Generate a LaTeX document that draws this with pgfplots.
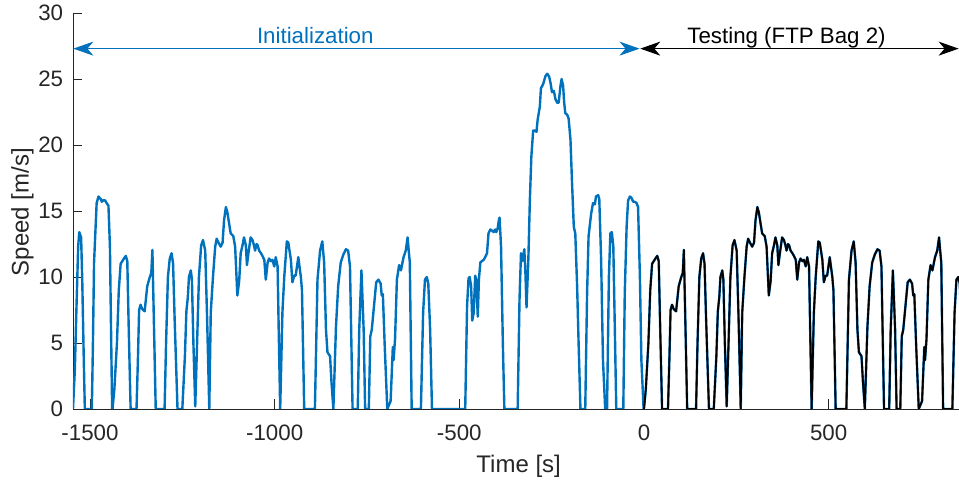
\documentclass[border=0pt]{standalone}
\usepackage{pgfplots}
\pgfplotsset{compat=1.18}
\usepackage{pgfplotstable}
\usepackage{fontspec}
\setmainfont{Liberation Sans}
\usetikzlibrary{arrows.meta}
\definecolor{mblue}{RGB}{0,114,189}
\definecolor{axgray}{RGB}{38,38,38}

% Speed trace before the repeated FTP Bag 2 segment
\pgfplotstableread{
t v
-1546 0
-1541 3
-1537 7.3
-1532 12.3
-1529 13.4
-1524 13.0
-1521 9.8
-1517 4
-1514 0
-1495 0
-1492 5
-1489 11.1
-1482 15.6
-1477 16.1
-1471 15.9
-1468 15.7
-1465 15.8
-1459 15.8
-1455 15.6
-1450 15.4
-1446 12.3
-1443 6
-1440 0
}\leadin

% FTP Bag 2 speed profile, time from start of the bag
\pgfplotstableread{
t v
0 0
5 1.5
12 5
17 9
22 11.0
31 11.4
36 11.6
40 11.2
44 6
49 0
65 0
69 4
72 7.5
76 7.9
80 7.6
83 7.5
87 7.4
94 9.3
101 10.0
105 10.3
108 12.05
111 8
117 0
141 0
145 5
150 10
155 11.4
160 11.8
164 11.0
168 7
176 0
189 0
196 4
200 7.4
204 8.5
207 10.0
212 10.5
215 9.8
219 5
224 0.2
229 5
234 10
240 12.4
245 12.8
251 12.0
256 7
262 0
266 7.3
272 10
278 12.3
282 12.9
287 12.6
293 12.3
298 12.6
302 14.3
307 15.3
311 14.9
316 14.0
320 13.3
327 13.1
332 12.3
338 8.6
343 9.7
347 11.8
352 12.4
356 13.0
361 12.4
364 10.9
368 11.8
374 13.0
379 12.8
383 12.4
386 12.0
390 12.5
393 12.4
397 12.0
402 11.8
406 11.6
411 11.3
415 9.8
420 11.1
424 11.4
429 11.2
433 11.3
438 10.8
442 11.5
447 10.8
450 6
454 0
460 7.3
465 10.0
472 12.7
476 12.6
483 11.3
487 9.6
492 10.1
496 10.1
503 11.5
510 10.0
513 9.0
519 0
548 0
555 9.8
562 12.0
568 12.7
573 11.1
578 6.0
582 4.3
589 4.0
593 2
598 0
605 6.2
611 9.3
618 11.1
625 11.7
632 12.1
638 12.0
643 10.8
650 0
664 0
668 6
674 10.5
680 6
684 0
694 0
698 5.5
702 6.0
708 7.8
714 9.6
720 9.8
726 9.5
729 8.6
732 8.7
737 4.8
744 0
750 0.4
753 0.6
759 4.7
761 3.7
765 5.3
770 9.8
776 10.9
781 10.5
788 11.5
794 12.0
799 13.0
802 12.0
805 11.1
810 0
835 0
841 7.3
846 9.8
851 10.0
855 9.5
860 6
865 0
867 0
}\bagtwo

% Speed trace after the repeated segment, up to the start of testing
\pgfplotstableread{
t v
-574 0
-484 0
-479 7.8
-475 9.9
-472 10.0
-468 9.3
-465 6.7
-461 7.3
-457 10.1
-454 9.8
-450 7.0
-447 9.8
-443 11.1
-439 11.2
-434 11.3
-430 11.5
-425 11.8
-421 13.3
-416 13.6
-411 13.5
-407 13.4
-403 13.6
-400 13.4
-396 13.7
-393 14.3
-391 14.5
-387 12.3
-382 4.8
-378 0
-342 0
-337 8.3
-333 11.8
-330 11.2
-327 11.6
-324 12.1
-321 10.3
-318 7.7
-313 11.4
-309 15.8
-305 19.1
-300 21.1
-296 21.1
-291 21.0
-288 21.9
-282 22.9
-279 24.3
-275 24.5
-272 24.7
-267 25.2
-262 25.4
-257 25.2
-253 24.7
-249 24.0
-244 24.1
-240 23.5
-235 23.2
-231 23.2
-226 24.5
-223 25.0
-219 24.5
-216 23.2
-213 22.4
-208 22.3
-204 22.0
-199 20.4
-195 17.3
-190 13.8
-186 13.3
-181 9.3
-177 5.0
-172 0
-159 0
-154 8.8
-150 13.1
-143 14.8
-138 15.6
-133 15.5
-130 16.1
-124 16.2
-121 15.9
-116 11.3
-111 3.7
-105 0
-100 0
-95 10.0
-91 13.3
-87 13.4
-83 12.3
-79 6.2
-75 0
-56 0
-52 8.8
-47 13.8
-43 15.8
-38 16.1
-34 16.0
-29 15.7
-25 15.7
-20 15.6
-16 15.3
-11 10.0
-7 3.7
-1 0
0 0
}\tailpart

\begin{document}
\begin{tikzpicture}
\begin{axis}[
  at={(73pt,75pt)}, anchor=south west,
  scale only axis, width=886pt, height=396pt,
  xmin=-1546, xmax=853, ymin=0, ymax=30,
  axis x line*=bottom, axis y line*=left,
  xtick={-1500,-1000,-500,0,500},
  xticklabels={-1500,-1000,-500,0,500},
  ytick={0,5,10,15,20,25,30},
  yticklabels={0,5,10,15,20,25,30},
  tick align=inside,
  major tick length=9.5pt,
  every tick/.style={axgray, line width=0.7pt},
  axis line style={axgray, line width=0.8pt},
  ticklabel style={font=\fontsize{22.3}{25}\selectfont, text=axgray},
  xticklabel style={anchor=base, yshift=-31.7pt},
  yticklabel style={anchor=east, inner sep=0pt, xshift=-9.7pt},
  xlabel={Time [s]},
  ylabel={Speed [m/s]},
  label style={font=\fontsize{24}{27}\selectfont, text=axgray},
  xlabel style={at={(axis description cs:0.503,-0.1609)}, anchor=base},
  ylabel style={at={(axis description cs:-0.0502,0.497)}, anchor=base},
  every axis plot/.append style={line join=round},
]
\addplot[mblue, line width=2.4pt] table[x=t, y=v] {\leadin};
\addplot[mblue, line width=2.4pt] table[x expr=\thisrow{t}-1439, y=v] {\bagtwo};
\addplot[mblue, line width=2.4pt] table[x=t, y=v] {\tailpart};
\addplot[mblue, line width=2.4pt] table[x=t, y=v] {\bagtwo};
\addplot[black, line width=1.8pt] table[x=t, y=v] {\bagtwo};

\draw[mblue, line width=0.9pt,
  {Stealth[length=20pt,width=14pt,inset=6pt]}-{Stealth[length=20pt,width=14pt,inset=6pt]}]
  (axis cs:-1545,27.3) -- (axis cs:-12,27.3);
\draw[black, line width=0.9pt,
  {Stealth[length=20pt,width=14pt,inset=6pt]}-{Stealth[length=20pt,width=14pt,inset=6pt]}]
  (axis cs:-10,27.3) -- (axis cs:852,27.3);
\node[mblue, anchor=base, yshift=4.7pt, font=\fontsize{22.3}{25}\selectfont]
  at (axis cs:-890,27.3) {Initialization};
\node[black, anchor=base, yshift=4.7pt, font=\fontsize{22.3}{25}\selectfont]
  at (axis cs:386,27.3) {Testing (FTP Bag 2)};
\end{axis}
\pgfresetboundingbox
\useasboundingbox (0,0) rectangle (959pt,484pt);
\end{tikzpicture}
\end{document}
